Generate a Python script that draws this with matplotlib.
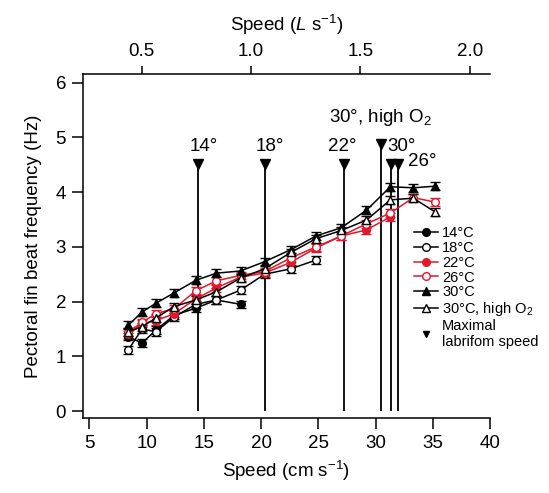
import matplotlib
matplotlib.use("Agg")
import matplotlib.pyplot as plt
from matplotlib.lines import Line2D
import numpy as np

plt.rcParams['font.family'] = ['Liberation Sans', 'DejaVu Sans']
plt.rcParams['mathtext.fontset'] = 'custom'
plt.rcParams['mathtext.rm'] = 'Liberation Sans'
plt.rcParams['mathtext.it'] = 'Liberation Sans:italic'

# ---- data ----
speed = [8.4, 9.6, 10.8, 12.4, 14.3, 16.1, 18.2, 20.3, 22.6, 24.8, 27.0, 29.2, 31.3, 33.3, 35.2]

f14 = [1.36, 1.24, 1.48, 1.75, 1.88, 2.03, 1.95]
f18 = [1.12, 1.50, 1.45, 1.72, 1.95, 2.03, 2.21, 2.50, 2.60, 2.76]
f22 = [1.40, 1.60, 1.65, 1.78, 2.05, 2.25, 2.45, 2.52, 2.72, 2.98, 3.20, 3.31, 3.55]
f26 = [1.45, 1.62, 1.78, 1.87, 2.20, 2.38, 2.48, 2.55, 2.80, 3.00, 3.20, 3.42, 3.62, 3.90, 3.82]
f30 = [1.57, 1.81, 1.97, 2.16, 2.39, 2.52, 2.56, 2.73, 2.95, 3.20, 3.35, 3.67, 4.10, 4.08, 4.11]
f30o = [1.45, 1.54, 1.70, 1.91, 2.03, 2.18, 2.43, 2.60, 2.90, 3.15, 3.30, 3.49, 3.86, 3.89, 3.64]
err = 0.07

max_speed = [14.45, 20.33, 27.26, 30.46, 31.31, 31.92]
max_freq = [4.52, 4.52, 4.52, 4.89, 4.52, 4.52]
max_labels = ['14°', '18°', '22°', '30°, high O$_2$', '30°', '26°']
label_x = [15.0, 20.8, 27.05, 30.46, 32.25, 34.1]
label_y = [4.83, 4.83, 4.83, 5.36, 4.83, 4.57]

body_length = 19.12  # cm

xticks = [5, 10, 15, 20, 25, 30, 35, 40]
yticks = [0, 1, 2, 3, 4, 5, 6]
top_ticks = [0.5, 1.0, 1.5, 2.0]

red = '#e0182d'
FS = 13.5

fig = plt.figure(figsize=(5.49, 4.93), dpi=100)
ax = fig.add_axes([82.7/549, 1-418.3/493, (490-82.7)/549, (418.3-74.3)/493])

series = [
    ('14°C', f14, 'k', 'o', 'k'),
    ('18°C', f18, 'k', 'o', 'white'),
    ('22°C', f22, red, 'o', red),
    ('26°C', f26, red, 'o', 'white'),
    ('30°C', f30, 'k', '^', 'k'),
    ('30°C, high O$_2$', f30o, 'k', '^', 'white'),
]

handles = []
for name, vals, col, mk, fc in series:
    xs = speed[:len(vals)]
    ax.errorbar(xs, vals, yerr=err, color=col, marker=mk, mfc=fc, mec=col,
                ms=5.5, lw=1.1, elinewidth=1.0, capsize=3.5, capthick=1.0, zorder=3)
    handles.append(Line2D([], [], color=col, marker=mk, mfc=fc, mec=col, ms=5.5, lw=1.1))

ax.vlines(max_speed, 0, max_freq, color='k', lw=1.3, zorder=2)
ax.plot(max_speed, max_freq, 'v', color='k', ms=7, ls='none', zorder=4)
for lx, ly, lab in zip(label_x, label_y, max_labels):
    ax.text(lx, ly, lab, ha='center', va='center', fontsize=FS)

handles.append(Line2D([], [], color='k', marker='v', ls='none', ms=5))
labels = [s[0] for s in series] + ['Maximal\nlabrifom speed']
leg = ax.legend(handles, labels, loc='upper left', bbox_to_anchor=(0.8, 0.575),
                frameon=False, fontsize=10.5, handlelength=1.6, handletextpad=0.3,
                labelspacing=0.05, borderaxespad=0)

ax.set_xlim(4.41, 40)
ax.set_ylim(-0.133, 6.155)
ax.set_xticks(xticks)
ax.set_yticks(yticks)
ax.spines['right'].set_visible(False)
ax.spines['top'].set_visible(False)
for s in ['left', 'bottom']:
    ax.spines[s].set_linewidth(1.1)
ax.tick_params(axis='both', direction='out', length=8, width=1.1, labelsize=FS, pad=4)
ax.set_xlabel('Speed (cm s$^{−1}$)', fontsize=FS, labelpad=5)
ax.set_ylabel('Pectoral fin beat frequency (Hz)', fontsize=FS, labelpad=10)

sec = ax.secondary_xaxis('top', functions=(lambda x: x / body_length, lambda x: x * body_length))
sec.set_xticks(top_ticks)
sec.set_xticklabels(['0.5', '1.0', '1.5', '2.0'])
sec.spines['top'].set_linewidth(1.1)
sec.tick_params(direction='out', length=6, width=1.1, labelsize=FS, pad=4)
sec.set_xlabel('Speed ($\\it{L}$ s$^{−1}$)', fontsize=FS, labelpad=9)

fig.savefig('out.png', dpi=100)
